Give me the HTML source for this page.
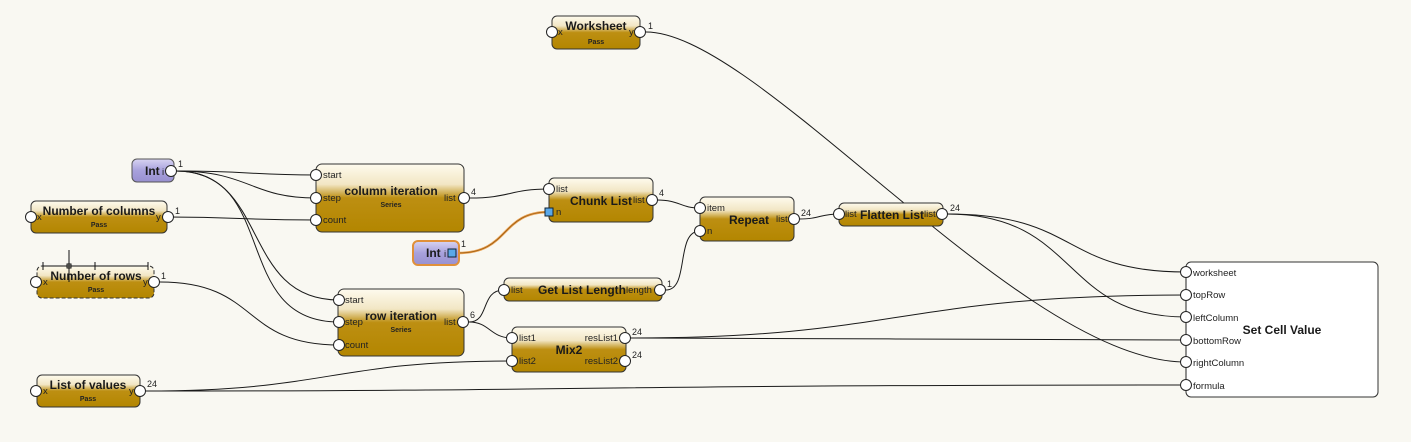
<!DOCTYPE html>
<html><head><meta charset="utf-8"><style>
html,body{margin:0;padding:0;background:#f9f8f2;}
svg{display:block;font-family:"Liberation Sans",sans-serif;}
.t{font-weight:bold;font-size:12px;fill:#1a1a1a;}
.p{font-size:9.5px;fill:#222;}
.s{font-weight:bold;font-size:7px;fill:#222;}
.n{font-size:9px;fill:#222;}
.w{fill:none;stroke:#1a1a1a;stroke-width:1;}
.port{fill:#fff;stroke:#222;stroke-width:1;}
.node{fill:url(#g);stroke:#333;stroke-width:1;}
</style></head><body>
<svg width="1411" height="442" viewBox="0 0 1411 442">
<defs>
<linearGradient id="g" x1="0" y1="0" x2="0" y2="1">
<stop offset="0" stop-color="#fefbee"/>
<stop offset="0.3" stop-color="#f2e6c4"/>
<stop offset="0.5" stop-color="#bd8f12"/>
<stop offset="1" stop-color="#b38600"/>
</linearGradient>
<linearGradient id="gi" x1="0" y1="0" x2="0" y2="1">
<stop offset="0" stop-color="#d8d4f2"/>
<stop offset="0.5" stop-color="#a8a1dc"/>
<stop offset="1" stop-color="#9890d0"/>
</linearGradient>
</defs>
<rect width="1411" height="442" fill="#f9f8f2"/>

<!-- wires -->
<g class="w">
<path d="M176 171 C250 171,250 175,316 175"/>
<path d="M176 171 C250 171,250 198,316 198"/>
<path d="M176 171 C270 171,240 300,339 300"/>
<path d="M176 171 C280 171,230 322,339 322"/>
<path d="M168 217 C240 217,240 220,316 220"/>
<path d="M160 282 C260 282,240 345,339 345"/>
<path d="M470 198 C510 198,510 189,549 189"/>
<path d="M657 200 C680 200,680 208,700 208"/>
<path d="M469 322 C490 322,480 290,504 290"/>
<path d="M469 322 C490 322,490 338,512 338"/>
<path d="M666 290 C690 290,675 231,700 231"/>
<path d="M146 391 C330 391,330 361,512 361"/>
<path d="M799 219 C820 219,820 214,839 214"/>
<path d="M631 338 C900 338,900 295,1186 295"/>
<path d="M631 338 C900 338,900 340,1186 340"/>
<path d="M146 391 C600 391,600 385,1186 385"/>
<path d="M947 214 C1080 214,1060 272,1186 272"/>
<path d="M947 214 C1080 214,1060 317,1186 317"/>
<path d="M646 32 C760 32,1020 362,1186 362"/>
</g>
<path d="M458 253 C510 253,500 212,549 212" fill="none" stroke="#e8a050" stroke-width="2.5"/>
<path d="M458 253 C510 253,500 212,549 212" fill="none" stroke="#9a5a10" stroke-width="0.8"/>

<!-- Worksheet -->
<rect class="node" x="552" y="16" width="88" height="33" rx="5"/>
<text class="t" x="596" y="30" text-anchor="middle">Worksheet</text>
<text class="s" x="596" y="44" text-anchor="middle">Pass</text>
<text class="p" x="558" y="35">x</text><text class="p" x="629" y="35">y</text>
<circle class="port" cx="552" cy="32" r="5.5"/><circle class="port" cx="640" cy="32" r="5.5"/>
<text class="n" x="648" y="29">1</text>

<!-- Int 1 -->
<rect x="132" y="159" width="42" height="23" rx="5" fill="url(#gi)" stroke="#555"/>
<text class="t" x="145" y="175">Int</text><text class="p" x="162" y="175">i</text>
<circle class="port" cx="171" cy="171" r="5.5"/>
<text class="n" x="178" y="167">1</text>

<!-- Number of columns -->
<rect class="node" x="31" y="201" width="136" height="32" rx="5"/>
<text class="t" x="99" y="215" text-anchor="middle">Number of columns</text>
<text class="s" x="99" y="227" text-anchor="middle">Pass</text>
<text class="p" x="37" y="220">x</text><text class="p" x="156" y="220">y</text>
<circle class="port" cx="31" cy="217" r="5.5"/><circle class="port" cx="168" cy="217" r="5.5"/>
<text class="n" x="175" y="214">1</text>

<!-- Number of rows -->
<rect class="node" x="37" y="266" width="117" height="32" rx="5" stroke-dasharray="4 2"/>
<text class="t" x="96" y="280" text-anchor="middle">Number of rows</text>
<text class="s" x="96" y="292" text-anchor="middle">Pass</text>
<text class="p" x="43" y="285">x</text><text class="p" x="143" y="285">y</text>
<circle class="port" cx="36" cy="282" r="5.5"/><circle class="port" cx="154" cy="282" r="5.5"/>
<text class="n" x="161" y="279">1</text>
<g stroke="#111" stroke-width="1" fill="none">
<line x1="43" y1="266" x2="148" y2="266"/>
<line x1="69" y1="250" x2="69" y2="282"/>
<rect x="67" y="264" width="4" height="4"/>
<line x1="43" y1="262" x2="43" y2="270"/><line x1="148" y1="262" x2="148" y2="270"/>
<line x1="95" y1="262" x2="95" y2="270"/>
</g>

<!-- List of values -->
<rect class="node" x="37" y="375" width="103" height="32" rx="5"/>
<text class="t" x="88" y="389" text-anchor="middle">List of values</text>
<text class="s" x="88" y="401" text-anchor="middle">Pass</text>
<text class="p" x="43" y="394">x</text><text class="p" x="129" y="394">y</text>
<circle class="port" cx="36" cy="391" r="5.5"/><circle class="port" cx="140" cy="391" r="5.5"/>
<text class="n" x="147" y="387">24</text>

<!-- column iteration -->
<rect class="node" x="316" y="164" width="148" height="68" rx="6"/>
<text class="t" x="391" y="195" text-anchor="middle">column  iteration</text>
<text class="s" x="391" y="207" text-anchor="middle">Series</text>
<text class="p" x="323" y="178">start</text><text class="p" x="323" y="201">step</text><text class="p" x="323" y="223">count</text>
<text class="p" x="444" y="201">list</text>
<circle class="port" cx="316" cy="175" r="5.5"/><circle class="port" cx="316" cy="198" r="5.5"/><circle class="port" cx="316" cy="220" r="5.5"/>
<circle class="port" cx="464" cy="198" r="5.5"/>
<text class="n" x="471" y="195">4</text>

<!-- row iteration -->
<rect class="node" x="338" y="289" width="126" height="67" rx="6"/>
<text class="t" x="401" y="320" text-anchor="middle">row iteration</text>
<text class="s" x="401" y="332" text-anchor="middle">Series</text>
<text class="p" x="345" y="303">start</text><text class="p" x="345" y="325">step</text><text class="p" x="345" y="348">count</text>
<text class="p" x="444" y="325">list</text>
<circle class="port" cx="339" cy="300" r="5.5"/><circle class="port" cx="339" cy="322" r="5.5"/><circle class="port" cx="339" cy="345" r="5.5"/>
<circle class="port" cx="463" cy="322" r="5.5"/>
<text class="n" x="470" y="318">6</text>

<!-- Int 2 -->
<rect x="413" y="241" width="46" height="24" rx="5" fill="url(#gi)" stroke="#e0903a" stroke-width="2"/>
<text class="t" x="426" y="257">Int</text><text class="p" x="444" y="257">i</text>
<rect x="448" y="249" width="8" height="8" fill="#5aa8e8" stroke="#123"/>
<text class="n" x="461" y="247">1</text>

<!-- Chunk List -->
<rect class="node" x="549" y="178" width="104" height="44" rx="5"/>
<text class="t" x="601" y="205" text-anchor="middle">Chunk List</text>
<text class="p" x="556" y="192">list</text><text class="p" x="556" y="215">n</text>
<text class="p" x="633" y="203">list</text>
<circle class="port" cx="549" cy="189" r="5.5"/>
<rect x="545" y="208" width="8" height="8" fill="#5aa8e8" stroke="#123"/>
<circle class="port" cx="652" cy="200" r="5.5"/>
<text class="n" x="659" y="196">4</text>

<!-- Get List Length -->
<rect class="node" x="504" y="278" width="158" height="23" rx="5"/>
<text class="t" x="582" y="294" text-anchor="middle">Get List Length</text>
<text class="p" x="511" y="293">list</text><text class="p" x="626" y="293">length</text>
<circle class="port" cx="504" cy="290" r="5.5"/><circle class="port" cx="660" cy="290" r="5.5"/>
<text class="n" x="667" y="287">1</text>

<!-- Mix2 -->
<rect class="node" x="512" y="327" width="114" height="45" rx="5"/>
<text class="t" x="569" y="354" text-anchor="middle">Mix2</text>
<text class="p" x="519" y="341">list1</text><text class="p" x="519" y="364">list2</text>
<text class="p" x="618" y="341" text-anchor="end">resList1</text><text class="p" x="618" y="364" text-anchor="end">resList2</text>
<circle class="port" cx="512" cy="338" r="5.5"/><circle class="port" cx="512" cy="361" r="5.5"/>
<circle class="port" cx="625" cy="338" r="5.5"/><circle class="port" cx="625" cy="361" r="5.5"/>
<text class="n" x="632" y="335">24</text><text class="n" x="632" y="358">24</text>

<!-- Repeat -->
<rect class="node" x="700" y="197" width="94" height="44" rx="5"/>
<text class="t" x="749" y="224" text-anchor="middle">Repeat</text>
<text class="p" x="707" y="211">item</text><text class="p" x="707" y="234">n</text>
<text class="p" x="776" y="222">list</text>
<circle class="port" cx="700" cy="208" r="5.5"/><circle class="port" cx="700" cy="231" r="5.5"/>
<circle class="port" cx="794" cy="219" r="5.5"/>
<text class="n" x="801" y="216">24</text>

<!-- Flatten List -->
<rect class="node" x="839" y="203" width="104" height="23" rx="5"/>
<text class="t" x="892" y="219" text-anchor="middle">Flatten List</text>
<text class="p" x="845" y="217">list</text><text class="p" x="924" y="217">list</text>
<circle class="port" cx="839" cy="214" r="5.5"/><circle class="port" cx="942" cy="214" r="5.5"/>
<text class="n" x="950" y="211">24</text>

<!-- Set Cell Value -->
<rect x="1186" y="262" width="192" height="135" rx="5" fill="#fff" stroke="#333"/>
<line x1="1186" y1="272" x2="1186" y2="385" stroke="#222"/>
<text class="t" x="1282" y="334" text-anchor="middle">Set Cell Value</text>
<g class="p">
<text x="1193" y="276">worksheet</text><text x="1193" y="298">topRow</text>
<text x="1193" y="321">leftColumn</text><text x="1193" y="344">bottomRow</text>
<text x="1193" y="366">rightColumn</text><text x="1193" y="389">formula</text>
</g>
<circle class="port" cx="1186" cy="272" r="5.5"/><circle class="port" cx="1186" cy="295" r="5.5"/>
<circle class="port" cx="1186" cy="317" r="5.5"/><circle class="port" cx="1186" cy="340" r="5.5"/>
<circle class="port" cx="1186" cy="362" r="5.5"/><circle class="port" cx="1186" cy="385" r="5.5"/>
</svg>
</body></html>
